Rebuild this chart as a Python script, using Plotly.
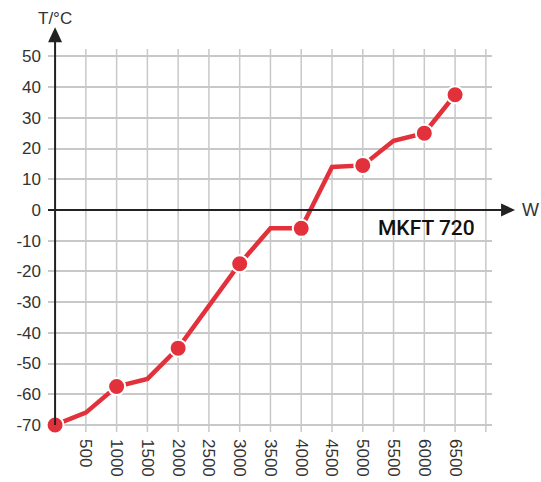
import plotly.graph_objects as go

# Data
watts = [0, 500, 1000, 1500, 2000, 2500, 3000, 3500, 4000, 4500, 5000, 5500, 6000, 6500]
temps = [-70, -66, -57.5, -55, -45, -31, -17.5, -6, -6, 14, 14.5, 22.5, 25, 37.5]
marked = [True, False, True, False, True, False, True, False, True, False, True, False, True, True]
x_ticks = [500, 1000, 1500, 2000, 2500, 3000, 3500, 4000, 4500, 5000, 5500, 6000, 6500]
x_grid = list(range(0, 7001, 500))
y_ticks = [-70, -60, -50, -40, -30, -20, -10, 0, 10, 20, 30, 40, 50]
label = "MKFT 720"

X0, X1 = -115, 7100
Y0, Y1 = -72.3, 52.4

def px(v):
    return (v - X0) / (X1 - X0)

def py(v):
    return (v - Y0) / (Y1 - Y0)

RED = "#e2313b"
AX = "#222222"
GRID = "#c8c8c8"
FONT = "Liberation Sans, Arial, sans-serif"

fig = go.Figure()
fig.add_trace(go.Scatter(x=watts, y=temps, mode="lines",
                         line=dict(color=RED, width=4.5), hoverinfo="skip", showlegend=False))
mx = [w for w, m in zip(watts, marked) if m]
my = [t for t, m in zip(temps, marked) if m]
fig.add_trace(go.Scatter(x=mx, y=my, mode="markers",
                         marker=dict(color=RED, size=17, line=dict(color="white", width=2)),
                         showlegend=False, cliponaxis=False))

shapes = []
# y axis line + arrow
ytip = 1.057
shapes.append(dict(type="line", xref="paper", yref="paper", x0=px(0), x1=px(0),
                   y0=py(-70), y1=ytip - 0.02, line=dict(color=AX, width=2)))
w = 7 / 444
h = 15 / 383
shapes.append(dict(type="path", xref="paper", yref="paper",
                   path=f"M {px(0)-w} {ytip-h} L {px(0)+w} {ytip-h} L {px(0)} {ytip} Z",
                   fillcolor=AX, line=dict(width=0)))
# x axis line + arrow
xtip = 1.052
shapes.append(dict(type="line", xref="paper", yref="paper", x0=0, x1=xtip - 0.02,
                   y0=py(0), y1=py(0), line=dict(color=AX, width=2)))
aw = 14 / 444
ah = 6.5 / 383
shapes.append(dict(type="path", xref="paper", yref="paper",
                   path=f"M {xtip-aw} {py(0)-ah} L {xtip-aw} {py(0)+ah} L {xtip} {py(0)} Z",
                   fillcolor=AX, line=dict(width=0)))

fig.update_layout(
    width=541, height=482,
    margin=dict(l=48, r=49, t=49, b=50, autoexpand=False),
    paper_bgcolor="white", plot_bgcolor="white",
    font=dict(family=FONT, size=17, color="#333333"),
    shapes=shapes,
    xaxis=dict(range=[X0, X1], tickvals=x_ticks, ticktext=[str(v) for v in x_ticks],
               tickangle=90, showgrid=False, zeroline=False, showline=False, ticks="",
               ticklabelstandoff=6, fixedrange=True, automargin=False),
    yaxis=dict(range=[Y0, Y1], tickvals=y_ticks, ticktext=[str(v) for v in y_ticks],
               showgrid=True, gridcolor=GRID, gridwidth=1.5, zeroline=False, showline=False,
               ticks="", ticklabelstandoff=6, fixedrange=True, automargin=False),
    annotations=[
        dict(text="T/°C", xref="paper", yref="paper", x=px(0), y=1.08, showarrow=False,
             xanchor="center", yanchor="middle", font=dict(size=17, color="#333333")),
        dict(text="W", xref="paper", yref="paper", x=1.086, y=py(0), showarrow=False,
             xanchor="center", yanchor="middle", font=dict(size=18, color="#333333")),
        dict(text=label, x=6856, y=-5.9, xref="x", yref="y", showarrow=False,
             xanchor="right", yanchor="middle",
             font=dict(family="Roboto, Liberation Sans, sans-serif", size=21,
                       color="#111111", weight=500)),
    ],
)
# vertical grid lines drawn under data, from the same grid values
for g in x_grid:
    fig.add_vline(x=g, line=dict(color=GRID, width=1.5), layer="below")

fig.write_html("out.html", config={"displayModeBar": False},
               post_script="document.body.style.margin='0';document.body.style.overflow='hidden';")
